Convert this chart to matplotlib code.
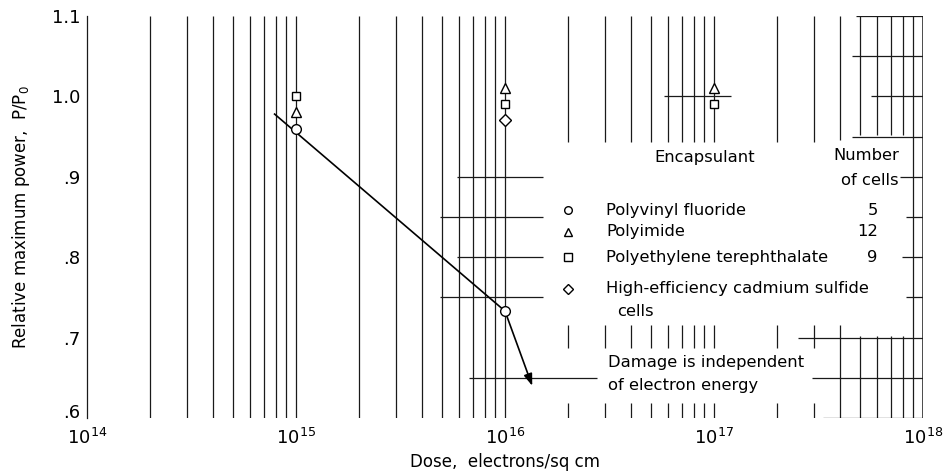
import numpy as np
import matplotlib
matplotlib.use("Agg")
import matplotlib.pyplot as plt
import matplotlib.transforms as mtransforms
from matplotlib.ticker import FixedLocator, FixedFormatter

plt.rcParams['font.family'] = ['DejaVu Sans']
plt.rcParams['mathtext.default'] = 'regular'

# data
dose_pvf = [1e15, 1e16]
power_pvf = [0.96, 0.733]
dose_pi = [1e15, 1e16, 1e17]
power_pi = [0.98, 1.01, 1.01]
dose_pet = [1e15, 1e16, 1e17]
power_pet = [1.00, 0.99, 0.99]
dose_cds = [1e16]
power_cds = [0.971]

fit_dose = [7.9e14, 1e16]
fit_power = [0.978, 0.733]
arrow_end = (1.35e16, 0.64)

legend_names = ['Polyvinyl fluoride', 'Polyimide', 'Polyethylene terephthalate']
legend_cells = ['5', '12', '9']

xticks = [1e14, 1e15, 1e16, 1e17, 1e18]
xtick_labels = ['$10^{14}$', '$10^{15}$', '$10^{16}$', '$10^{17}$', '$10^{18}$']
yticks = [0.6, 0.7, 0.8, 0.9, 1.0, 1.1]
ytick_labels = ['.6', '.7', '.8', '.9', '1.0', '1.1']

fig = plt.figure(figsize=(9.45, 4.71), dpi=100)
ax = fig.add_axes([87 / 945, 53 / 471, 836 / 945, 402 / 471])
ax.set_xscale('log')
ax.set_xlim(1e14, 1e18)
ax.set_ylim(0.6, 1.1)

gc = '0.1'
glw = 0.9

# vertical grid, with the gaps the scan shows around the key
for dec in [14, 15, 16, 17]:
    for m in range(1, 10):
        x = m * 10.0 ** dec
        if x == 1e14:
            continue
        if x < 1.5e16 or m == 9 and dec == 17:
            ax.vlines(x, 0.6, 1.1, color=gc, lw=glw, zorder=1)
        elif dec == 17 and m >= 5:
            ax.vlines(x, 0.952, 1.1, color=gc, lw=glw, zorder=1)
            ax.vlines(x, 0.6, 0.702, color=gc, lw=glw, zorder=1)
        elif dec == 17 and m == 4:
            ax.vlines(x, 0.946, 1.1, color=gc, lw=glw, zorder=1)
            ax.vlines(x, 0.6, 0.716, color=gc, lw=glw, zorder=1)
        else:
            ax.vlines(x, 0.943, 1.1, color=gc, lw=glw, zorder=1)
            ax.vlines(x, 0.687, 0.716, color=gc, lw=glw, zorder=1)
            ax.vlines(x, 0.6, 0.619, color=gc, lw=glw, zorder=1)

# horizontal grid pieces (log10 x start, end)
hsegs = {
    1.1: [(17.68, 18)],
    1.05: [(17.66, 18)],
    1.0: [(16.76, 17.08), (17.75, 18)],
    0.95: [(17.66, 18)],
    0.9: [(15.77, 16.18), (17.89, 18)],
    0.85: [(15.69, 16.18), (17.92, 18)],
    0.8: [(15.77, 16.18), (17.90, 18)],
    0.75: [(15.69, 16.18), (17.92, 18)],
    0.7: [(17.40, 18)],
    0.65: [(15.83, 16.44), (17.47, 18)],
    0.6: [(17.52, 18)],
}
for yv, segs in hsegs.items():
    for a, b in segs:
        ax.hlines(yv, 10 ** a, 10 ** b, color=gc, lw=glw, zorder=1)

# fitted line and arrow
ax.plot(fit_dose, fit_power, color='black', lw=1.2, zorder=3)
ax.annotate('', xy=arrow_end, xytext=(dose_pvf[1], power_pvf[1]),
            arrowprops=dict(arrowstyle='-|>,head_length=0.7,head_width=0.25',
                            color='black', lw=1.2, shrinkA=4, shrinkB=0),
            zorder=3)

mk = dict(ls='none', mfc='white', mec='black', mew=1.0, zorder=4)
ax.plot(dose_pvf, power_pvf, marker='o', ms=7, **mk)
ax.plot(dose_pi, power_pi, marker='^', ms=6.5, **mk)
ax.plot(dose_pet, power_pet, marker='s', ms=6, **mk)
ax.plot(dose_cds, power_cds, marker='D', ms=6, **mk)

# key
tr = ax.transAxes
fs = 11.8
ax.text(0.739, 0.649, 'Encapsulant', transform=tr, ha='center', va='center', fontsize=fs)
ax.text(0.971, 0.654, 'Number', transform=tr, ha='right', va='center', fontsize=fs)
ax.text(0.971, 0.592, 'of cells', transform=tr, ha='right', va='center', fontsize=fs)
key_y = [0.517, 0.463, 0.400]
key_mk = ['o', '^', 's']
for yy, m, name, n in zip(key_y, key_mk, legend_names, legend_cells):
    ax.plot([0.575], [yy], marker=m, ms=5.5, transform=tr, clip_on=False, **mk)
    ax.text(0.621, yy, name, transform=tr, ha='left', va='center', fontsize=fs)
    ax.text(0.946, yy, n, transform=tr, ha='right', va='center', fontsize=fs)
ax.plot([0.575], [0.321], marker='D', ms=5, transform=tr, clip_on=False, **mk)
ax.text(0.621, 0.321, 'High-efficiency cadmium sulfide', transform=tr, ha='left', va='center', fontsize=fs)
ax.text(0.634, 0.266, 'cells', transform=tr, ha='left', va='center', fontsize=fs)
ax.text(0.623, 0.139, 'Damage is independent', transform=tr, ha='left', va='center', fontsize=fs)
ax.text(0.623, 0.082, 'of electron energy', transform=tr, ha='left', va='center', fontsize=fs)

# axes styling
for s in ['top', 'bottom', 'right']:
    ax.spines[s].set_visible(False)
ax.spines['left'].set_linewidth(glw)
ax.spines['left'].set_color(gc)
ax.vlines(1e18, 0.6, 1.1, color=gc, lw=1.1, zorder=1)

ax.xaxis.set_major_locator(FixedLocator(xticks))
ax.xaxis.set_major_formatter(FixedFormatter(xtick_labels))
ax.xaxis.set_minor_locator(FixedLocator([]))
ax.yaxis.set_major_locator(FixedLocator(yticks))
ax.yaxis.set_major_formatter(FixedFormatter(ytick_labels))
ax.tick_params(length=0, labelsize=13)
ax.tick_params(axis='x', pad=7)
ax.tick_params(axis='y', pad=5)
ax.set_xlabel('Dose,  electrons/sq cm', fontsize=12, labelpad=4)
ax.set_ylabel('Relative maximum power,  P/P$_0$', fontsize=12, labelpad=14)

fig.canvas.draw()
lab = ax.get_yticklabels()[0]
lab.set_transform(lab.get_transform() + mtransforms.ScaledTranslation(0, 5 / 72, fig.dpi_scale_trans))

fig.savefig('out.png', dpi=100)
